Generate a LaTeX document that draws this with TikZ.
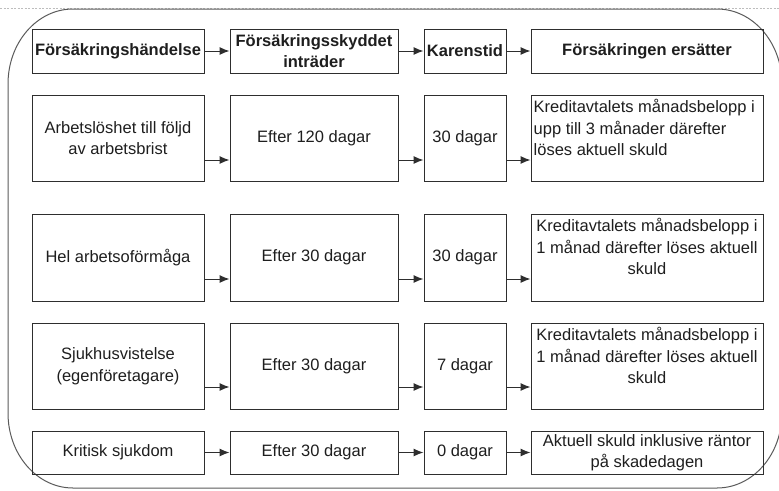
\documentclass[tikz,border=0pt]{standalone}
\usepackage{fontspec}
\setmainfont{Liberation Sans}
\usetikzlibrary{arrows.meta}
\definecolor{ln}{HTML}{2E2E2E}
\definecolor{tx}{HTML}{1E1E1E}
\definecolor{frame}{HTML}{5A5A5A}
\definecolor{dots}{HTML}{BDBDBD}
\newcommand\mytxt{\fontsize{16.5}{21.5}\selectfont}
\begin{document}
\begin{tikzpicture}[x=1pt,y=-1pt,
  box/.style={draw=ln, line width=1pt, inner sep=0pt, align=center, font=\mytxt, text=tx},
  hdr/.style={box, minimum height=44pt, font=\mytxt\bfseries},
  c1/.style={minimum width=172pt},
  c2/.style={minimum width=168pt},
  c3/.style={minimum width=82pt},
  c4/.style={minimum width=232pt},
  r1/.style={minimum height=86pt},
  r2/.style={minimum height=87pt},
  r3/.style={minimum height=86pt},
  r4/.style={minimum height=43pt},
  arr/.style={draw=ln, line width=1pt, -{Latex[length=10pt,width=8pt]}},
  lbl/.style={font=\mytxt, text=tx, inner sep=0pt}
]
\useasboundingbox (0,0) rectangle (779,490);
% top dotted line
\draw[dots, line width=0.8pt, dash pattern=on 2pt off 1.5pt] (0,8) -- (779,8);
% outer rounded frame
\draw[frame, line width=1pt] (73,9) -- (717,9)
  .. controls (752.9,9) and (782,42.6) .. (782,84) -- (782,413)
  .. controls (782,454.6) and (752.9,488) .. (717,488) -- (73,488)
  .. controls (37.1,488) and (8,454.6) .. (8,413) -- (8,84)
  .. controls (8,42.4) and (37.1,9) .. cycle;

% header
\node[hdr,c1] (h1) at (118,51) {Försäkringshändelse};
\node[hdr,c2] (h2) at (314,51) {Försäkringsskyddet\\inträder};
\node[hdr,c3] (h3) at (465,51) {Karenstid};
\node[hdr,c4] (h4) at (647,51) {Försäkringen ersätter};

% row 1
\node[box,c1,r1] (a1) at (118,138) {Arbetslöshet till följd\\av arbetsbrist};
\node[box,c2,r1] (a2) at (314,138) {Efter 120 dagar};
\node[box,c3,r1] (a3) at (465,138) {30 dagar};
\node[box,c4,r1,label={[lbl,align=left,anchor=north west,xshift=3pt,yshift=-4.5pt]north west:{Kreditavtalets månadsbelopp i\\upp till 3 månader därefter\\löses aktuell skuld}}] (a4) at (647,138) {};

% row 2
\node[box,c1,r2] (b1) at (118,257.5) {Hel arbetsoförmåga};
\node[box,c2,r2] (b2) at (314,257.5) {Efter 30 dagar};
\node[box,c3,r2] (b3) at (465,257.5) {30 dagar};
\node[box,c4,r2,label={[lbl,align=center,anchor=north,yshift=-4.5pt]north:{Kreditavtalets månadsbelopp i\\1 månad därefter löses aktuell\\skuld}}] (b4) at (647,257.5) {};

% row 3
\node[box,c1,r3] (k1) at (118,366) {Sjukhusvistelse\\(egenföretagare)};
\node[box,c2,r3] (k2) at (314,366) {Efter 30 dagar};
\node[box,c3,r3] (k3) at (465,366) {7 dagar};
\node[box,c4,r3,label={[lbl,align=center,anchor=north,yshift=-4.5pt]north:{Kreditavtalets månadsbelopp i\\1 månad därefter löses aktuell\\skuld}}] (k4) at (647,366) {};

% row 4
\node[box,c1,r4] (d1) at (118,452.5) {Kritisk sjukdom};
\node[box,c2,r4] (d2) at (314,452.5) {Efter 30 dagar};
\node[box,c3,r4] (d3) at (465,452.5) {0 dagar};
\node[box,c4,r4] (d4) at (647,452.5) {Aktuell skuld inklusive räntor\\på skadedagen};

% arrows
\draw[arr] (h1.east) -- (h2.west);
\draw[arr] (h2.east) -- (h3.west);
\draw[arr] (h3.east) -- (h4.west);
\foreach \a/\b in {a1/a2,a2/a3,a3/a4}
  \draw[arr] ([yshift=-22pt]\a.east) -- ([yshift=-22pt]\b.west);
\foreach \a/\b in {b1/b2,b2/b3,b3/b4}
  \draw[arr] ([yshift=-21.5pt]\a.east) -- ([yshift=-21.5pt]\b.west);
\foreach \a/\b in {k1/k2,k2/k3,k3/k4}
  \draw[arr] ([yshift=-21pt]\a.east) -- ([yshift=-21pt]\b.west);
\foreach \a/\b in {d1/d2,d2/d3,d3/d4}
  \draw[arr] (\a.east) -- (\b.west);
\end{tikzpicture}
\end{document}
